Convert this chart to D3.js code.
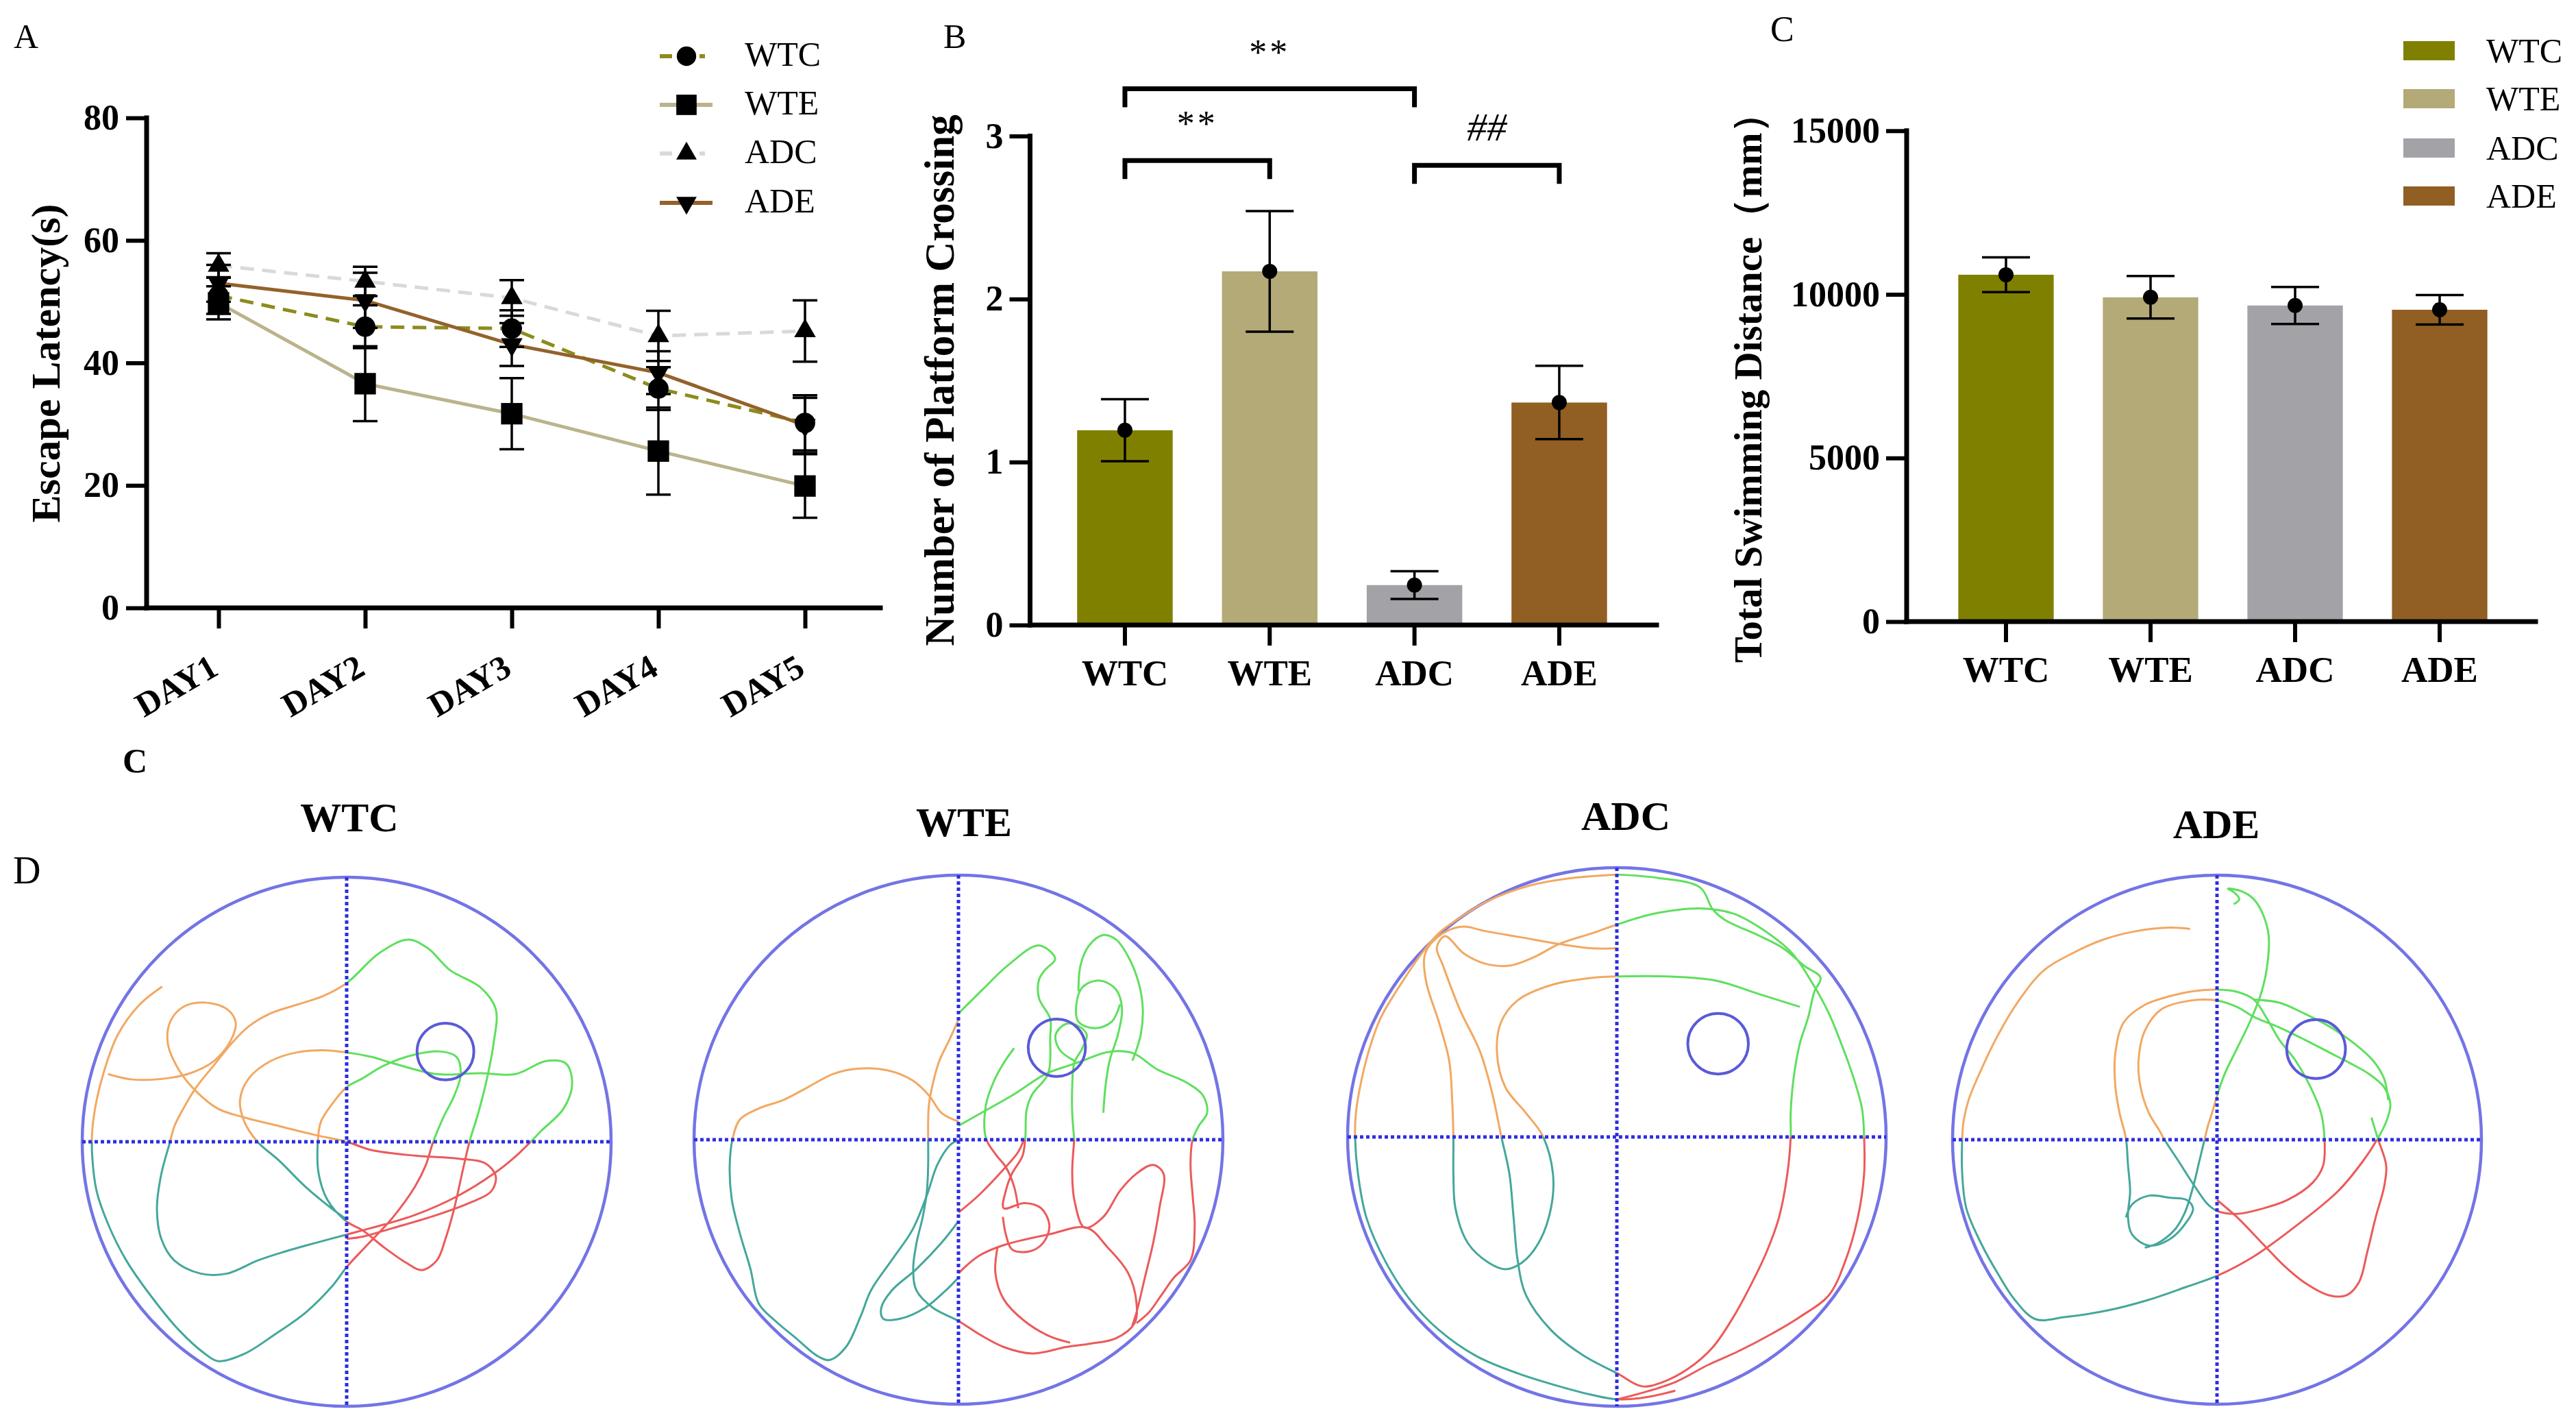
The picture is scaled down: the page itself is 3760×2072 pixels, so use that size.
<!DOCTYPE html>
<html><head><meta charset="utf-8">
<script src="https://cdn.jsdelivr.net/npm/d3@7"></script>
<style>html,body{margin:0;padding:0;background:#fff;} svg{display:block;}</style>
</head><body>
<svg id="fig" width="3760" height="2072"></svg>
<script>
// ===================== DATA =====================
const days = ["DAY1", "DAY2", "DAY3", "DAY4", "DAY5"];
const groups = ["WTC", "WTE", "ADC", "ADE"];

// Panel A: escape latency (s), mean and SEM per day
const latencyWTC = [51.0, 45.9, 45.6, 35.8, 30.2];
const latencyWTE = [49.8, 36.6, 31.7, 25.6, 19.9];
const latencyADC = [55.9, 53.3, 50.6, 44.4, 45.2];
const latencyADE = [53.0, 50.2, 43.0, 38.4, 29.8];
const semWTC = [3.0, 3.5, 3.0, 3.5, 4.5];
const semWTE = [2.7, 6.1, 5.8, 7.1, 5.2];
const semADC = [2.0, 2.4, 2.9, 4.1, 5.0];
const semADE = [3.0, 4.5, 3.5, 3.5, 4.5];
const latencyTicks = [0, 20, 40, 60, 80];

// Panel B: number of platform crossings
const crossings = [1.195, 2.17, 0.245, 1.365];
const crossingsSem = [0.19, 0.37, 0.085, 0.225];
const crossingTicks = [0, 1, 2, 3];
const comparisons = [
  { a: "WTC", b: "ADC", y: 3.29, label: "**" },
  { a: "WTC", b: "WTE", y: 2.85, label: "**" },
  { a: "ADC", b: "ADE", y: 2.82, label: "##" }
];

// Panel C: total swimming distance (mm)
const distance = [10600, 9910, 9660, 9530];
const distanceSem = [530, 650, 565, 450];
const distanceTicks = [0, 5000, 10000, 15000];

// Panel D: swim tracks in tracker (camera) coordinates
const cameraWTC = { cx: 794, cy: 926, rx: 605, ry: 610 };
const cameraWTE = { cx: 741, cy: 922, rx: 637, ry: 610 };
const cameraADC = { cx: 759, cy: 915, rx: 649, ry: 621 };
const cameraADE = { cx: 712, cy: 921, rx: 630, ry: 610 };
const platformWTC = { x: 1020, y: 718, r: 65 };
const platformWTE = { x: 978, y: 710, r: 69 };
const platformADC = { x: 1003, y: 700, r: 73 };
const platformADE = { x: 948, y: 712, r: 70 };

const tracksWTC = [
  [[372,568],[320,610],[270,680],[240,760],[222,830],[212,900],[212,960],[222,1040],[250,1120],[290,1200],[345,1280],[410,1360],[470,1415],[500,1432],[560,1415],[630,1370],[700,1320],[760,1260],[794,1215],[840,1165],[900,1100],[950,1030],[975,980],[992,926],[1015,870],[1040,820],[1055,770],[1045,730],[1010,718],[950,725],[880,750],[830,780],[794,800],[760,840],[735,880],[728,926],[730,1000],[750,1060],[794,1110],[830,1130],[880,1170],[930,1205],[965,1222],[1000,1200],[1020,1150],[1040,1080],[1060,990],[1075,926],[1095,860],[1115,780],[1130,700],[1135,620],[1100,570],[1030,530],[980,480],[935,460],[870,490],[794,560],[740,590],[680,610],[620,630],[570,660],[530,700],[490,750],[450,800],[420,850],[400,890],[390,926],[370,1000],[360,1080],[370,1150],[400,1200],[460,1230],[520,1230],[590,1200],[650,1180],[720,1160],[794,1140],[850,1125],[950,1095],[1050,1050],[1130,1000],[1180,960],[1215,926],[1240,900],[1290,850],[1310,790],[1295,745],[1250,740],[1180,770],[1100,768],[1000,770],[900,745],[850,730],[794,720],[740,715],[680,720],[620,740],[570,780],[550,830],[560,880],[590,926],[640,970],[700,1030],[760,1080],[794,1105]],
  [[248,770],[300,782],[360,782],[430,770],[490,740],[530,690],[540,650],[520,620],[470,605],[420,615],[390,650],[385,700],[410,760],[450,810],[500,850],[560,870],[640,890],[720,910],[794,926],[850,945],[950,958],[1050,965],[1110,975],[1135,1005],[1125,1040],[1080,1065],[1000,1095],[900,1125],[830,1145],[794,1150]]
];
const tracksWTE = [
  [[741,645],[720,690],[695,740],[680,790],[670,840],[668,880],[668,922],[668,980],[665,1040],[655,1100],[640,1160],[632,1220],[640,1270],[680,1310],[741,1340],[790,1370],[850,1400],[920,1415],[1000,1400],[1060,1392],[1120,1380],[1165,1345],[1170,1300],[1150,1230],[1100,1170],[1050,1125],[960,1140],[850,1165],[790,1190],[741,1230]],
  [[741,880],[700,860],[670,820],[630,785],[570,762],[500,758],[440,770],[380,800],[320,830],[260,850],[215,875],[198,915],[190,980],[195,1060],[215,1140],[240,1220],[260,1300],[300,1340],[350,1380],[400,1420],[430,1430],[470,1400],[505,1330],[530,1270],[580,1200],[630,1130],[665,1050],[690,980],[720,935],[741,922]],
  [[741,1110],[700,1160],[640,1220],[580,1270],[555,1310],[560,1335],[600,1335],[660,1310],[710,1270],[741,1240]],
  [[740,632],[800,575],[860,520],[935,474],[974,505],[950,530],[935,553],[935,596],[962,643],[962,685],[957,770],[919,817],[905,854],[902,918],[895,960],[870,1000],[855,1040],[850,1080],[900,1068],[940,1080],[960,1120],[945,1160],[910,1180],[870,1175],[855,1140],[848,1100]],
  [[741,890],[800,858],[870,820],[952,770],[1010,750],[1040,740],[1100,720],[1160,722],[1220,760],[1290,790],[1330,820],[1340,860],[1320,890],[1305,922],[1300,980],[1305,1050],[1310,1120],[1300,1200],[1260,1240],[1230,1280],[1200,1320],[1170,1345]],
  [[875,711],[850,745],[825,790],[807,843],[807,918],[830,955],[855,985],[875,1030],[885,1080]],
  [[1090,860],[1095,800],[1105,740],[1125,680],[1135,620],[1120,575],[1080,555],[1040,570],[1025,610],[1030,650],[1070,665],[1110,650],[1130,610]],
  [[1020,922],[1015,860],[1015,800],[1020,745],[1040,710],[1050,680],[1030,660],[1000,655],[975,680],[985,715],[1020,740]],
  [[1160,740],[1180,680],[1185,620],[1175,560],[1150,500],[1120,460],[1090,450],[1055,475],[1035,520],[1030,580]],
  [[741,1090],[790,1050],[850,990],[885,950],[900,918]],
  [[1020,922],[1015,1000],[1020,1060],[1045,1125],[1090,1100],[1130,1040],[1170,1000],[1210,980],[1235,1000],[1225,1080],[1210,1160],[1190,1240],[1170,1320],[1160,1350]],
  [[835,1170],[830,1230],[850,1290],[900,1340],[960,1375],[1010,1390]]
];
const tracksADC = [
  [[760,310],[650,318],[550,335],[450,370],[380,410],[330,445],[290,490],[240,560],[190,640],[160,720],[140,800],[130,860],[128,915],[135,1000],[155,1100],[200,1200],[260,1290],[330,1360],[420,1420],[520,1460],[620,1490],[700,1510],[760,1520],[830,1515],[900,1500]],
  [[760,310],[860,318],[960,340],[990,390],[1020,415],[1100,450],[1160,480],[1210,520],[1250,548],[1235,580],[1220,640],[1200,700],[1185,780],[1178,860],[1178,915],[1170,1000],[1150,1100],[1120,1180],[1080,1260],[1040,1330],[990,1400],[930,1450],[870,1480],[820,1490],[760,1460],[680,1420],[600,1360],[540,1280],[520,1200],[510,1100],[500,1000],[480,912],[460,820],[430,720],[380,620],[340,520],[325,478],[345,452],[390,492],[440,515],[500,520],[560,500],[620,470],[700,445],[760,425],[850,400],[960,388],[1040,400],[1100,430],[1180,490],[1230,560],[1270,630],[1300,700],[1330,780],[1350,850],[1355,915],[1355,1000],[1340,1100],[1310,1200],[1270,1280],[1200,1330],[1130,1370],[1050,1410],[980,1440],[900,1480],[820,1505],[760,1520]],
  [[760,545],[700,548],[600,565],[520,600],[480,650],[470,720],[490,800],[540,860],[580,912],[605,1000],[600,1080],[570,1160],[530,1205],[490,1220],[450,1205],[400,1160],[370,1080],[365,1000],[365,915],[362,830],[355,740],[330,650],[300,560],[295,500],[310,470],[350,440],[390,430],[440,440],[530,455],[620,470],[700,480],[760,480]],
  [[760,545],[880,545],[1000,555],[1100,585],[1200,615]]
];
const tracksADE = [
  [[648,435],[600,432],[520,440],[440,460],[370,490],[300,530],[240,600],[190,680],[150,760],[120,830],[108,880],[105,918],[105,1000],[115,1080],[150,1160],[190,1230],[230,1290],[280,1335],[350,1330],[450,1315],[550,1290],[640,1260],[712,1235],[800,1190],[900,1120],[1000,1040],[1060,970],[1095,918],[1115,880],[1125,840],[1110,800],[1075,770],[1030,745],[980,720],[920,690],[860,662],[800,638],[760,615],[712,600],[650,600],[580,620],[540,670],[525,740],[530,800],[550,860],[575,900],[585,918],[620,970],[660,1030],[690,1070],[712,1085],[760,1092],[820,1080],[880,1060],[940,1020],[965,980],[968,918],[960,860],[935,800],[900,740],[860,690],[830,640],[800,598],[760,580],[712,575],[660,578],[600,590],[540,610],[490,650],[470,720],[470,800],[480,860],[495,918],[500,980],[505,1040],[500,1100],[510,1140],[550,1165],[600,1150],[640,1110],[655,1080],[640,1060],[600,1055],[550,1050],[510,1070],[495,1100]],
  [[752,378],[765,366],[752,350],[738,342],[770,348],[798,365],[820,398],[835,450],[830,530],[815,590],[790,650],[760,710],[730,770],[712,820],[700,860],[690,890],[683,918],[670,970],[655,1030],[635,1090],[610,1130],[570,1160],[540,1170]],
  [[712,1060],[760,1100],[820,1160],[870,1210],[920,1250],[980,1280],[1020,1280],[1050,1250],[1070,1180],[1090,1100],[1110,1030],[1115,980],[1095,918],[1080,870]],
  [[800,598],[860,605],[920,630],[980,660],[1040,700],[1085,740],[1110,780],[1120,830]]
];

// ===================== STYLE / LAYOUT =====================
const FONT = '"Liberation Serif","Times New Roman",serif';
const colors = { WTC: "#808000", WTE: "#b4aa78", ADC: "#a2a2a7", ADE: "#915f23" };
const lineColors = { WTC: "#8c8c1e", WTE: "#bbb38c", ADC: "#d9d9d9", ADE: "#93622a" };
const quadColors = { tl: "#f2a862", tr: "#5ee05e", br: "#ec5a5a", bl: "#44a79b" };

const svg = d3.select("#fig");
svg.append("rect").attr("width", 3760).attr("height", 2072).attr("fill", "#fff");

function label(g, x, y, str, size, weight, anchor, extra) {
  const t = g.append("text").attr("x", x).attr("y", y).text(str)
    .attr("font-family", FONT).attr("font-size", size)
    .attr("font-weight", weight || "normal").attr("text-anchor", anchor || "start").attr("fill", "#000");
  if (extra) extra(t);
  return t;
}
function vTitle(g, x, y, str, size) {
  return g.append("text").attr("transform", `translate(${x},${y}) rotate(-90)`)
    .attr("text-anchor", "middle").attr("font-family", FONT).attr("font-size", size)
    .attr("font-weight", "bold").attr("fill", "#000").text(str);
}
function styleAxis(sel, size) {
  sel.attr("font-family", FONT);
  sel.select(".domain").remove();
  sel.selectAll(".tick line").attr("stroke", "#000").attr("stroke-width", 6);
  sel.selectAll(".tick text").attr("font-family", FONT).attr("font-weight", "bold")
    .attr("font-size", size).attr("fill", "#000");
}
function axisLines(g, x0, xEnd, yBottom, yTop) {
  g.append("line").attr("x1", x0).attr("x2", x0).attr("y1", yBottom).attr("y2", yTop)
    .attr("stroke", "#000").attr("stroke-width", 7).attr("stroke-linecap", "square");
  g.append("line").attr("x1", x0).attr("x2", xEnd).attr("y1", yBottom).attr("y2", yBottom)
    .attr("stroke", "#000").attr("stroke-width", 7).attr("stroke-linecap", "square");
}
const intFmt = d3.format("d");

// ===================== PANEL A =====================
(function () {
  const L = { x0: 214, xEnd: 1285, yBottom: 887, yTop: 172, dayL: 319, dayR: 1175 };
  const x = d3.scalePoint().domain(days).range([L.dayL, L.dayR]);
  const y = d3.scaleLinear().domain([0, 80]).range([L.yBottom, L.yTop]);
  const g = svg.append("g");
  label(g, 20, 70, "A", 50);

  const ya = g.append("g").attr("transform", `translate(${L.x0},0)`)
    .call(d3.axisLeft(y).tickValues(latencyTicks).tickFormat(intFmt).tickSize(30).tickPadding(10).tickSizeOuter(0));
  styleAxis(ya, 52);
  const xa = g.append("g").attr("transform", `translate(0,${L.yBottom})`)
    .call(d3.axisBottom(x).tickSize(30).tickSizeOuter(0));
  styleAxis(xa, 50);
  xa.selectAll(".tick text").attr("y", 0).attr("dy", 0).attr("text-anchor", "end")
    .attr("transform", "translate(2,96) rotate(-30)");
  axisLines(g, L.x0, L.xEnd, L.yBottom, L.yTop);
  vTitle(g, 87, 530, "Escape Latency(s)", 60);

  const series = [
    { name: "WTC", v: latencyWTC, e: semWTC, dash: "20,12", sym: d3.symbolCircle, size: 700, rot: 0 },
    { name: "WTE", v: latencyWTE, e: semWTE, dash: null, sym: d3.symbolSquare, size: 980, rot: 0 },
    { name: "ADC", v: latencyADC, e: semADC, dash: "20,12", sym: d3.symbolTriangle, size: 430, rot: 0 },
    { name: "ADE", v: latencyADE, e: semADE, dash: null, sym: d3.symbolTriangle, size: 430, rot: 180 }
  ];
  const line = d3.line().x((d, i) => x(days[i])).y(d => y(d));
  series.forEach(s => {
    g.append("path").attr("d", line(s.v)).attr("fill", "none").attr("stroke", lineColors[s.name])
      .attr("stroke-width", 5).attr("stroke-dasharray", s.dash);
  });
  series.forEach(s => {
    const eg = g.append("g").attr("stroke", "#000").attr("stroke-width", 3.5);
    s.v.forEach((v, i) => {
      const cx = x(days[i]);
      eg.append("line").attr("x1", cx).attr("x2", cx).attr("y1", y(v - s.e[i])).attr("y2", y(v + s.e[i]));
      [v - s.e[i], v + s.e[i]].forEach(b => eg.append("line").attr("x1", cx - 18).attr("x2", cx + 18).attr("y1", y(b)).attr("y2", y(b)));
    });
  });
  series.forEach(s => {
    s.v.forEach((v, i) => {
      g.append("path").attr("d", d3.symbol().type(s.sym).size(s.size)())
        .attr("transform", `translate(${x(days[i])},${y(v)}) rotate(${s.rot})`).attr("fill", "#000");
    });
  });
  // legend
  const legY = [82, 153, 224, 296];
  series.forEach((s, i) => {
    const lg = g.append("g").attr("transform", `translate(0,${legY[i]})`);
    lg.append("line").attr("x1", 963).attr("x2", 1040).attr("y1", 0).attr("y2", 0)
      .attr("stroke", lineColors[s.name]).attr("stroke-width", 6).attr("stroke-dasharray", s.dash ? "18,40,8" : null);
    lg.append("path").attr("d", d3.symbol().type(s.sym).size(s.size * 0.9)())
      .attr("transform", `translate(1002,0) rotate(${s.rot})`).attr("fill", "#000");
    label(lg, 1087, 14, s.name, 50);
  });
})();

// ===================== BAR PANEL HELPER =====================
function barPanel(cfg) {
  const x = d3.scaleBand().domain(groups).range(cfg.xRange).paddingInner(0.34).paddingOuter(0.17);
  const y = d3.scaleLinear().domain(cfg.domain).range([cfg.yBottom, cfg.yTop]);
  const g = svg.append("g");
  groups.forEach((k, i) => {
    g.append("rect").attr("x", x(k)).attr("width", x.bandwidth())
      .attr("y", y(cfg.values[i])).attr("height", y(0) - y(cfg.values[i])).attr("fill", colors[k]);
  });
  const ya = g.append("g").attr("transform", `translate(${cfg.x0},0)`)
    .call(d3.axisLeft(y).tickValues(cfg.ticks).tickFormat(intFmt).tickSize(30).tickPadding(9).tickSizeOuter(0));
  styleAxis(ya, 52);
  const xa = g.append("g").attr("transform", `translate(0,${cfg.yBottom})`)
    .call(d3.axisBottom(x).tickSize(30).tickSizeOuter(0));
  styleAxis(xa, 53);
  xa.selectAll(".tick text").attr("y", 88).attr("dy", 0);
  axisLines(g, cfg.x0, cfg.xEnd, cfg.yBottom, cfg.yTop);
  const eg = g.append("g").attr("stroke", "#000").attr("stroke-width", 3.5);
  groups.forEach((k, i) => {
    const cx = x(k) + x.bandwidth() / 2, v = cfg.values[i], e = cfg.sem[i];
    eg.append("line").attr("x1", cx).attr("x2", cx).attr("y1", y(v - e)).attr("y2", y(v + e));
    [v - e, v + e].forEach(b => eg.append("line").attr("x1", cx - 35).attr("x2", cx + 35).attr("y1", y(b)).attr("y2", y(b)));
    g.append("circle").attr("cx", cx).attr("cy", y(v)).attr("r", 11).attr("fill", "#000");
  });
  return { g, x, y };
}

// ===================== PANEL B =====================
(function () {
  const P = barPanel({ xRange: [1536.3, 2381.6], domain: [0, 3], yBottom: 912, yTop: 198.5, x0: 1503.5, xEnd: 2418,
    values: crossings, sem: crossingsSem, ticks: crossingTicks });
  label(P.g, 1377, 70, "B", 50);
  vTitle(P.g, 1392, 555, "Number of Platform Crossing", 61);
  const cx = k => P.x(k) + P.x.bandwidth() / 2;
  comparisons.forEach(c => {
    const yy = P.y(c.y);
    P.g.append("path").attr("d", `M${cx(c.a)},${yy + 27}V${yy}H${cx(c.b)}V${yy + 27}`)
      .attr("fill", "none").attr("stroke", "#000").attr("stroke-width", 7);
    const isHash = c.label === "##";
    label(P.g, (cx(c.a) + cx(c.b)) / 2, yy - 36, c.label, isHash ? 58 : 52, "normal", "middle",
      t => { if (isHash) t.attr("font-style", "italic"); else t.attr("letter-spacing", 4); });
  });
})();

// ===================== PANEL C =====================
(function () {
  const P = barPanel({ xRange: [2822.5, 3666.5], domain: [0, 15000], yBottom: 907, yTop: 190.8, x0: 2783, xEnd: 3701,
    values: distance, sem: distanceSem, ticks: distanceTicks });
  label(P.g, 2584, 60, "C", 52);
  vTitle(P.g, 2571, 552, "Total Swimming Distance（mm）", 57);
  const legY = [74, 144, 216, 286];
  groups.forEach((k, i) => {
    P.g.append("rect").attr("x", 3508).attr("y", legY[i] - 14).attr("width", 75).attr("height", 28).attr("fill", colors[k]);
    label(P.g, 3629, legY[i] + 17, k, 50);
  });
})();

// ===================== PANEL D (swim paths) =====================
(function () {
  const g = svg.append("g");
  label(g, 179, 1127, "C", 50, "bold");
  label(g, 19, 1289, "D", 56);
  const pools = [
    { name: "WTC", cx: 506, cy: 1666, r: 386, cam: cameraWTC, plat: platformWTC, tracks: tracksWTC, tx: 510, ty: 1213 },
    { name: "WTE", cx: 1399, cy: 1663, r: 386, cam: cameraWTE, plat: platformWTE, tracks: tracksWTE, tx: 1407, ty: 1220 },
    { name: "ADC", cx: 2360, cy: 1659, r: 393, cam: cameraADC, plat: platformADC, tracks: tracksADC, tx: 2373, ty: 1211 },
    { name: "ADE", cx: 3236, cy: 1663, r: 386, cam: cameraADE, plat: platformADE, tracks: tracksADE, tx: 3235, ty: 1223 }
  ];
  const defs = svg.append("defs");
  pools.forEach((p, pi) => {
    label(g, p.tx, p.ty, p.name, 60, "bold", "middle");
    const sx = d3.scaleLinear().domain([p.cam.cx - p.cam.rx, p.cam.cx + p.cam.rx]).range([p.cx - p.r, p.cx + p.r]);
    const sy = d3.scaleLinear().domain([p.cam.cy - p.cam.ry, p.cam.cy + p.cam.ry]).range([p.cy - p.r, p.cy + p.r]);
    const pg = g.append("g");
    pg.append("circle").attr("cx", p.cx).attr("cy", p.cy).attr("r", p.r).attr("fill", "none")
      .attr("stroke", "#7474e6").attr("stroke-width", 4.5);
    const line = d3.line().x(d => sx(d[0])).y(d => sy(d[1])).curve(d3.curveCatmullRom.alpha(0.5));
    const ext = p.r + 20;
    const quads = [
      { k: "tl", x: p.cx - ext, y: p.cy - ext }, { k: "tr", x: p.cx, y: p.cy - ext },
      { k: "br", x: p.cx, y: p.cy }, { k: "bl", x: p.cx - ext, y: p.cy }
    ];
    quads.forEach(q => {
      const id = `clip-${pi}-${q.k}`;
      defs.append("clipPath").attr("id", id).append("rect").attr("x", q.x).attr("y", q.y).attr("width", ext).attr("height", ext);
      const qg = pg.append("g").attr("clip-path", `url(#${id})`);
      p.tracks.forEach(t => qg.append("path").attr("d", line(t)).attr("fill", "none")
        .attr("stroke", quadColors[q.k]).attr("stroke-width", 3).attr("stroke-linejoin", "round"));
    });
    // quadrant dividers
    pg.append("line").attr("x1", p.cx - p.r).attr("x2", p.cx + p.r).attr("y1", p.cy).attr("y2", p.cy)
      .attr("stroke", "#2e2ee0").attr("stroke-width", 5).attr("stroke-dasharray", "5,4");
    pg.append("line").attr("x1", p.cx).attr("x2", p.cx).attr("y1", p.cy - p.r).attr("y2", p.cy + p.r)
      .attr("stroke", "#2e2ee0").attr("stroke-width", 5).attr("stroke-dasharray", "5,4");
    // platform
    pg.append("circle").attr("cx", sx(p.plat.x)).attr("cy", sy(p.plat.y))
      .attr("r", sx(p.plat.x + p.plat.r) - sx(p.plat.x)).attr("fill", "none")
      .attr("stroke", "#5a5ad8").attr("stroke-width", 4);
  });
})();
</script>
</body></html>
